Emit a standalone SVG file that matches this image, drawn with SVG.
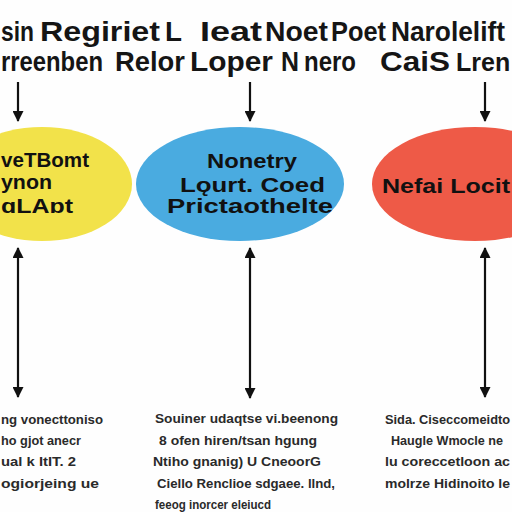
<svg xmlns="http://www.w3.org/2000/svg" width="512" height="512" viewBox="0 0 512 512">
<style>
.h{font-family:"Liberation Sans","DejaVu Sans",sans-serif;font-weight:bold;font-size:28px;fill:#151515;}
.n{font-family:"Liberation Sans","DejaVu Sans",sans-serif;font-weight:bold;font-size:21px;fill:#111;}
.y{font-size:20px;}
.s{font-family:"Liberation Sans","DejaVu Sans",sans-serif;font-weight:bold;font-size:12px;fill:#2a2a2a;}
.ln{stroke:#111;stroke-width:2.2;fill:none;}
</style>
<defs>
<marker id="ah" viewBox="0 0 10 10" refX="9" refY="5" markerWidth="6" markerHeight="5" orient="auto-start-reverse" markerUnits="strokeWidth">
<path d="M0,0 L10,5 L0,10 z" fill="#111"/>
</marker>
</defs>
<rect width="512" height="512" fill="#fefefe"/>
<g id="title">
<text class="h" x="1" y="41" textLength="33" lengthAdjust="spacingAndGlyphs">sin</text>
<text class="h" x="40" y="41" textLength="120" lengthAdjust="spacingAndGlyphs">Regiriet</text>
<text class="h" x="165" y="41" textLength="17" lengthAdjust="spacingAndGlyphs">L</text>
<text class="h" x="200" y="41" textLength="62" lengthAdjust="spacingAndGlyphs">Ieat</text>
<text class="h" x="265" y="41" textLength="63" lengthAdjust="spacingAndGlyphs">Noet</text>
<text class="h" x="331" y="41" textLength="55" lengthAdjust="spacingAndGlyphs">Poet</text>
<text class="h" x="391" y="41" textLength="114" lengthAdjust="spacingAndGlyphs">Narolelift</text>
<text class="h" x="1" y="71" textLength="102" lengthAdjust="spacingAndGlyphs">rreenben</text>
<text class="h" x="115" y="71" textLength="70" lengthAdjust="spacingAndGlyphs">Relor</text>
<text class="h" x="190" y="71" textLength="83" lengthAdjust="spacingAndGlyphs">Loper</text>
<text class="h" x="281" y="71" textLength="18" lengthAdjust="spacingAndGlyphs">N</text>
<text class="h" x="304" y="71" textLength="52" lengthAdjust="spacingAndGlyphs">nero</text>
<text class="h" x="380" y="71" textLength="70" lengthAdjust="spacingAndGlyphs">CaiS</text>
<text class="h" x="456" y="71" style="font-size:25px">Lren</text>
</g>
<g id="connectors">
<line class="ln" x1="18" y1="82" x2="18" y2="121" marker-end="url(#ah)"/>
<line class="ln" x1="250" y1="82" x2="250" y2="121" marker-end="url(#ah)"/>
<line class="ln" x1="485" y1="82" x2="485" y2="121" marker-end="url(#ah)"/>
<line class="ln" x1="18" y1="248" x2="18" y2="397" marker-start="url(#ah)" marker-end="url(#ah)"/>
<line class="ln" x1="250" y1="248" x2="250" y2="398" marker-start="url(#ah)" marker-end="url(#ah)"/>
<line class="ln" x1="485" y1="248" x2="485" y2="397" marker-start="url(#ah)" marker-end="url(#ah)"/>
</g>
<g id="node-yellow">
<ellipse cx="42" cy="184" rx="90" ry="57" fill="#f2e24a"/>
<text class="n y" x="1" y="167" textLength="88" lengthAdjust="spacingAndGlyphs">veTBomt</text>
<text class="n y" x="1" y="189" textLength="51" lengthAdjust="spacingAndGlyphs">ynon</text>
<text class="n y" x="1" y="213" textLength="72" lengthAdjust="spacingAndGlyphs">ɑLAɒt</text>
</g>
<g id="node-blue">
<ellipse cx="240" cy="184" rx="104" ry="57" fill="#4aabe0"/>
<text class="n" x="207" y="168" textLength="90" lengthAdjust="spacingAndGlyphs">Nonetry</text>
<text class="n" x="180" y="192" textLength="145" lengthAdjust="spacingAndGlyphs">Lǫurt. Coed</text>
<text class="n" x="167" y="213" textLength="166" lengthAdjust="spacingAndGlyphs">Prictaothelte</text>
</g>
<g id="node-red">
<ellipse cx="475" cy="184" rx="103" ry="57" fill="#ee5a47"/>
<text class="n" x="382" y="193" textLength="128" lengthAdjust="spacingAndGlyphs">Nefai Locit</text>
</g>
<g id="notes">
<text class="s" x="1" y="424" textLength="102" lengthAdjust="spacingAndGlyphs">ng vonecttoniso</text>
<text class="s" x="1" y="445" textLength="80" lengthAdjust="spacingAndGlyphs">ho gjot anecr</text>
<text class="s" x="1" y="466" textLength="75" lengthAdjust="spacingAndGlyphs">ual k ItIT. 2</text>
<text class="s" x="1" y="488" textLength="98" lengthAdjust="spacingAndGlyphs">ogiorjeing ue</text>
<text class="s" x="155" y="423" textLength="183" lengthAdjust="spacingAndGlyphs">Souiner udaqtse vi.beenong</text>
<text class="s" x="159" y="445" textLength="158" lengthAdjust="spacingAndGlyphs">8  ofen hiren/tsan hgung</text>
<text class="s" x="153" y="466" textLength="168" lengthAdjust="spacingAndGlyphs">Ntiho gnanig) U  CneoorG</text>
<text class="s" x="157" y="488" textLength="178" lengthAdjust="spacingAndGlyphs">Ciello Renclioe sdgaee. llnd,</text>
<text class="s" x="155" y="509" textLength="116" lengthAdjust="spacingAndGlyphs">feeog inorcer eleiucd</text>
<text class="s" x="385" y="424" textLength="125" lengthAdjust="spacingAndGlyphs">Sida. Ciseccomeidto</text>
<text class="s" x="391" y="445" textLength="112" lengthAdjust="spacingAndGlyphs">Haugle Wmocle ne</text>
<text class="s" x="385" y="466" textLength="125" lengthAdjust="spacingAndGlyphs">lu coreccetloon ac</text>
<text class="s" x="385" y="488" textLength="125" lengthAdjust="spacingAndGlyphs">molrze Hidinoito le</text>
</g>
</svg>
